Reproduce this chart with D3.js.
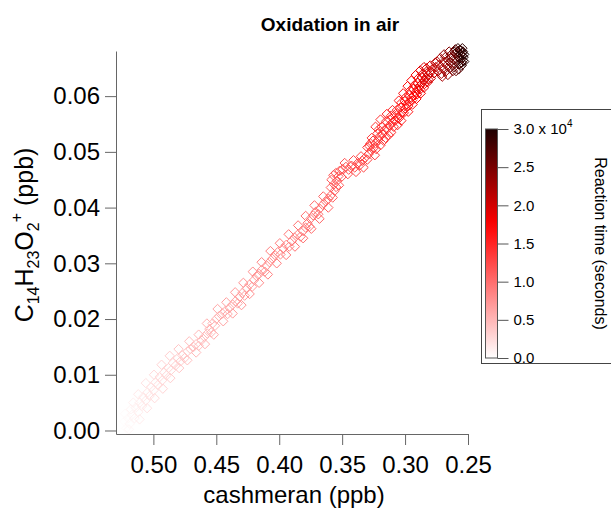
<!DOCTYPE html>
<html>
<head>
<meta charset="utf-8">
<script src="https://cdn.jsdelivr.net/npm/d3@7"></script>
<style>
  body { margin: 0; background: #fff; }
  svg { display: block; font-family: "Liberation Sans", Arial, sans-serif; }
</style>
</head>
<body>
<svg id="chart" width="611" height="510"></svg>
<script>
  'use strict';

  // cashmeran (ppb) (main track, then side scatter)
  var cashmeran = [
    0.5245, 0.5230, 0.5215, 0.5200, 0.5188, 0.5170, 0.5178, 0.5150, 0.5140, 0.5120, 0.5108,
    0.5090, 0.5080, 0.5060, 0.5048, 0.5030, 0.5018, 0.4998, 0.4985, 0.4962, 0.4950, 0.4930,
    0.4915, 0.4895, 0.4880, 0.4860, 0.4845, 0.4822, 0.4805, 0.4785, 0.4770, 0.4752, 0.4728,
    0.4705, 0.4680, 0.4660, 0.4640, 0.4618, 0.4595, 0.4572, 0.4555, 0.4540, 0.4530, 0.4510, 0.4500,
    0.4478, 0.4452, 0.4430, 0.4410, 0.4395, 0.4370, 0.4348, 0.4330, 0.4315, 0.4292,
    0.4275, 0.4258, 0.4235, 0.4215, 0.4200, 0.4180, 0.4160, 0.4140, 0.4115, 0.4100,
    0.4078, 0.4055, 0.4035, 0.4012, 0.3990, 0.3970, 0.3945, 0.3920, 0.3900, 0.3878, 0.3855,
    0.3830, 0.3810, 0.3790, 0.3775, 0.3760, 0.3752, 0.3730, 0.3712, 0.3690, 0.3678,
    0.3655, 0.3630, 0.3610, 0.3590, 0.3575, 0.3560, 0.3548, 0.3565, 0.3540, 0.3530, 0.3550, 0.3520,
    0.3495, 0.3470, 0.3448, 0.3425, 0.3400, 0.3380, 0.3360, 0.3340, 0.3320, 0.3300,
    0.3290, 0.3270, 0.3282, 0.3250, 0.3235, 0.3255, 0.3215, 0.3200, 0.3220, 0.3180,
    0.3165, 0.3185, 0.3140, 0.3120, 0.3100, 0.3122, 0.3080, 0.3060, 0.3075, 0.3040,
    0.3020, 0.3035, 0.3000, 0.2985, 0.3002, 0.2965, 0.2950, 0.2968, 0.2930, 0.2915, 0.2935,
    0.2900, 0.2885, 0.2900, 0.2868, 0.2850, 0.2868, 0.2835, 0.2815, 0.2830, 0.2800,
    0.2785, 0.2770, 0.2755, 0.2740, 0.2728, 0.2712, 0.2700, 0.2690, 0.2678, 0.2668, 0.2655,
    0.2660, 0.2645, 0.2635, 0.2625, 0.2640, 0.2615, 0.2600, 0.2610, 0.2592, 0.2580, 0.2588,
    0.2570, 0.2560, 0.2572, 0.2555, 0.2548, 0.2565, 0.2540, 0.2550, 0.2535, 0.2545, 0.2530,
    // side scatter
    0.5225, 0.5195, 0.5160, 0.5110, 0.5120, 0.5050, 0.5060, 0.4990, 0.4995, 0.4925, 0.4935,
    0.4865, 0.4870, 0.4795, 0.4800, 0.4730, 0.4715, 0.4660, 0.4640, 0.4590, 0.4575, 0.4520,
    0.4490, 0.4445, 0.4420, 0.4370, 0.4350, 0.4300, 0.4285, 0.4235, 0.4210, 0.4160, 0.4140, 0.4090,
    0.4070, 0.4020, 0.3995, 0.3945, 0.3925, 0.3875, 0.3850, 0.3810, 0.3790, 0.3745, 0.3720, 0.3680,
    0.3650, 0.3610, 0.3590, 0.3585, 0.3525, 0.3570, 0.3505,
    0.3480, 0.3455, 0.3410, 0.3390, 0.3350, 0.3330,
    0.3300, 0.3240, 0.3265, 0.3195, 0.3235, 0.3155, 0.3195, 0.3110, 0.3145, 0.3060, 0.3100, 0.3030,
    0.3050, 0.2975, 0.3015, 0.2940, 0.2980, 0.2910, 0.2950, 0.2875, 0.2915, 0.2850, 0.2880, 0.2820,
    0.2850, 0.2795,
    0.2760, 0.2720, 0.2690, 0.2650, 0.2620, 0.2600, 0.2575, 0.2560, 0.2540, 0.2580,
    // dense upper band
    0.3275, 0.3230, 0.3210, 0.3170, 0.3150, 0.3130, 0.3110, 0.3090, 0.3065, 0.3050, 0.3030,
    0.3010, 0.2995, 0.2975, 0.2960, 0.2945, 0.2925, 0.2905, 0.2895, 0.2880, 0.2860, 0.2845,
    0.2830, 0.2815, 0.2800,
    0.2745, 0.2705, 0.2680, 0.2640, 0.2610, 0.2595, 0.2565, 0.2550, 0.2545, 0.2530
  ];

  // C14H23O2+ (ppb)
  var product = [
    0.0006, 0.0016, 0.0004, 0.0022, 0.0012, 0.0028, 0.0038, 0.0022, 0.0041, 0.0033, 0.0050,
    0.0044, 0.0060, 0.0054, 0.0068, 0.0062, 0.0078, 0.0072, 0.0086, 0.0082, 0.0096, 0.0090,
    0.0104, 0.0099, 0.0112, 0.0108, 0.0121, 0.0117, 0.0130, 0.0124, 0.0135, 0.0130, 0.0142,
    0.0146, 0.0150, 0.0155, 0.0152, 0.0162, 0.0168, 0.0174, 0.0182, 0.0176, 0.0192, 0.0188, 0.0200,
    0.0205, 0.0210, 0.0214, 0.0209, 0.0220, 0.0226, 0.0232, 0.0228, 0.0240, 0.0247,
    0.0242, 0.0255, 0.0262, 0.0258, 0.0270, 0.0277, 0.0281, 0.0288, 0.0285, 0.0296,
    0.0302, 0.0308, 0.0315, 0.0320, 0.0316, 0.0327, 0.0333, 0.0330, 0.0340, 0.0346, 0.0351,
    0.0348, 0.0358, 0.0364, 0.0372, 0.0366, 0.0380, 0.0386, 0.0392, 0.0388, 0.0398,
    0.0405, 0.0411, 0.0416, 0.0422, 0.0418, 0.0430, 0.0437, 0.0442, 0.0448, 0.0456, 0.0462, 0.0466,
    0.0469, 0.0473, 0.0468, 0.0475, 0.0472, 0.0479, 0.0476, 0.0484, 0.0489, 0.0486,
    0.0496, 0.0502, 0.0510, 0.0507, 0.0515, 0.0520, 0.0521, 0.0528, 0.0533, 0.0532,
    0.0539, 0.0545, 0.0542, 0.0548, 0.0553, 0.0558, 0.0556, 0.0561, 0.0568, 0.0566,
    0.0572, 0.0580, 0.0578, 0.0585, 0.0591, 0.0590, 0.0597, 0.0602, 0.0601, 0.0607, 0.0613,
    0.0612, 0.0618, 0.0624, 0.0622, 0.0628, 0.0634, 0.0633, 0.0638, 0.0644, 0.0642,
    0.0648, 0.0641, 0.0652, 0.0645, 0.0656, 0.0640, 0.0650, 0.0661, 0.0644, 0.0655, 0.0664,
    0.0638, 0.0650, 0.0669, 0.0658, 0.0673, 0.0666, 0.0676, 0.0652, 0.0662, 0.0671, 0.0680,
    0.0678, 0.0665, 0.0657, 0.0682, 0.0673, 0.0683, 0.0680, 0.0660, 0.0670, 0.0677, 0.0675,
    // side scatter
    0.0030, 0.0002, 0.0050, 0.0020, 0.0065, 0.0040, 0.0085, 0.0058, 0.0100, 0.0075, 0.0118,
    0.0094, 0.0134, 0.0112, 0.0146, 0.0126, 0.0160, 0.0140, 0.0172, 0.0155, 0.0192, 0.0172,
    0.0218, 0.0196, 0.0230, 0.0210, 0.0248, 0.0225, 0.0265, 0.0245, 0.0285, 0.0265, 0.0302, 0.0280,
    0.0322, 0.0300, 0.0336, 0.0315, 0.0352, 0.0330, 0.0368, 0.0345, 0.0385, 0.0362, 0.0404, 0.0380,
    0.0420, 0.0400, 0.0436, 0.0450, 0.0440, 0.0458, 0.0455,
    0.0480, 0.0460, 0.0485, 0.0464, 0.0492, 0.0472,
    0.0508, 0.0494, 0.0525, 0.0512, 0.0545, 0.0525, 0.0558, 0.0535, 0.0568, 0.0548, 0.0575, 0.0556,
    0.0592, 0.0572, 0.0605, 0.0585, 0.0618, 0.0595, 0.0628, 0.0605, 0.0638, 0.0615, 0.0646, 0.0625,
    0.0652, 0.0632,
    0.0660, 0.0668, 0.0675, 0.0680, 0.0645, 0.0684, 0.0648, 0.0675, 0.0664, 0.0686,
    // dense upper band
    0.0515, 0.0505, 0.0540, 0.0520, 0.0555, 0.0530, 0.0565, 0.0545, 0.0575, 0.0560, 0.0588,
    0.0570, 0.0598, 0.0582, 0.0610, 0.0592, 0.0620, 0.0603, 0.0632, 0.0612, 0.0640, 0.0622,
    0.0650, 0.0630, 0.0655,
    0.0662, 0.0635, 0.0670, 0.0660, 0.0680, 0.0645, 0.0668, 0.0655, 0.0686, 0.0662
  ];

  // reaction time (seconds)
  var reactionTime = [
    0, 120, 240, 360, 480, 600, 720, 840, 960, 1080, 1200,
    1320, 1440, 1560, 1680, 1800, 1920, 2040, 2160, 2280, 2400, 2520,
    2640, 2760, 2880, 3000, 3120, 3240, 3360, 3480, 3600, 3720, 3840,
    3960, 4080, 4200, 4320, 4440, 4560, 4680, 4800, 4920, 5040, 5160, 5280,
    5400, 5510, 5620, 5730, 5840, 5950, 6060, 6170, 6280, 6390,
    6500, 6610, 6720, 6830, 6940, 7050, 7160, 7270, 7380, 7490,
    7600, 7720, 7840, 7960, 8080, 8200, 8320, 8440, 8560, 8680, 8800,
    8920, 9040, 9160, 9280, 9400, 9520, 9640, 9760, 9880, 10000,
    10150, 10300, 10450, 10600, 10750, 10900, 11050, 11200, 11350, 11500, 11650, 11800,
    11950, 12070, 12190, 12310, 12430, 12550, 12670, 12790, 12910, 13030,
    13150, 13280, 13410, 13540, 13670, 13800, 13930, 14060, 14190, 14320,
    14450, 14580, 14710, 14840, 14970, 15100, 15230, 15360, 15490, 15620,
    15800, 16020, 16240, 16460, 16680, 16900, 17120, 17340, 17560, 17780, 18000,
    18220, 18440, 18660, 18880, 19100, 19320, 19540, 19760, 19980, 20200,
    20400, 20700, 21000, 21300, 21600, 21900, 22200, 22500, 22800, 23100, 23400,
    23700, 24000, 24300, 24600, 24900, 25200, 25500, 25800, 26100, 26400, 26700,
    27000, 27300, 27600, 27900, 28200, 28500, 28800, 29100, 29400, 29700, 30000,
    // side scatter
    300, 500, 950, 1250, 1500, 1900, 2000, 2450, 2550, 2900, 3000,
    3350, 3450, 3850, 4000, 4350, 4550, 4800, 5000, 5250, 5450, 5750,
    6100, 6350, 6600, 6850, 7050, 7250, 7450, 7650, 7850, 8050, 8300, 8500,
    8700, 8900, 9100, 9300, 9500, 9650, 9800, 9900, 10050, 10150, 10300, 10400,
    10600, 10700, 10900, 11100, 11200, 11400, 11600,
    11900, 12100, 12300, 12500, 12800, 12900,
    13200, 13350, 13500, 13700, 13900, 14100, 14300, 14500, 14700, 14900, 15100, 15350,
    15700, 16000, 16300, 16600, 16900, 17200, 17500, 17800, 18100, 18400, 18800, 19200,
    19600, 20000,
    21000, 22000, 23500, 24500, 25000, 26000, 27000, 28000, 29000, 29500,
    // dense upper band
    13300, 13450, 13800, 13950, 14200, 14350, 14600, 14800, 15000, 15200, 15500,
    15650, 15900, 16150, 16400, 16700, 17000, 17300, 17650, 17950, 18300, 18600,
    19000, 19400, 19800,
    21400, 22300, 23200, 24400, 25600, 26200, 27600, 28600, 29200, 29800
  ];

  var xTicks = [0.50, 0.45, 0.40, 0.35, 0.30, 0.25];
  var yTicks = [0.00, 0.01, 0.02, 0.03, 0.04, 0.05, 0.06];
  var timeTicks = [0, 5000, 10000, 15000, 20000, 25000, 30000];

  var svg = d3.select('#chart');
  var plot = { left: 116, right: 468, top: 51, bottom: 434 };
  var axisColor = '#666';
  var font = '"Liberation Sans", Arial, sans-serif';

  var xScale = d3.scaleLinear().domain([0.5297, 0.25]).range([plot.left, plot.right]);
  var yScale = d3.scaleLinear().domain([-0.00063, 0.0681]).range([plot.bottom, plot.top]);
  var colorScale = d3.scaleLinear()
    .domain([0, 17500, 30000])
    .range(['#ffffff', '#ff0000', '#1e0000'])
    .clamp(true);

  var points = cashmeran.map(function(x, i) {
    return { x: x, y: product[i], t: reactionTime[i] };
  }).sort(function(a, b) { return a.t - b.t; });

  // open diamonds (square turned 45 degrees)
  var diamond = {
    draw: function(context, size) {
      var r = Math.sqrt(size / 2);
      context.moveTo(0, -r);
      context.lineTo(r, 0);
      context.lineTo(0, r);
      context.lineTo(-r, 0);
      context.closePath();
    }
  };

  svg.append('rect').attr('width', 611).attr('height', 510).attr('fill', '#fff');

  // title
  svg.append('text')
    .attr('x', 330)
    .attr('y', 31)
    .attr('text-anchor', 'middle')
    .style('font-size', '19px')
    .style('font-weight', 'bold')
    .text('Oxidation in air');

  // data
  svg.append('g')
    .selectAll('path.pt')
    .data(points)
    .enter()
    .append('path')
    .attr('class', 'pt')
    .attr('d', d3.symbol(diamond, 44))
    .attr('transform', function(d) {
      return 'translate(' + xScale(d.x) + ',' + yScale(d.y) + ')';
    })
    .attr('fill', 'none')
    .attr('stroke', function(d) { return colorScale(d.t); })
    .attr('stroke-width', 1);

  // axes
  var xAxis = svg.append('g')
    .attr('transform', 'translate(0,' + plot.bottom + ')')
    .call(d3.axisBottom(xScale).tickValues(xTicks).tickFormat(d3.format('.2f'))
      .tickSize(11).tickSizeOuter(0).tickPadding(11));
  var yAxis = svg.append('g')
    .attr('transform', 'translate(' + plot.left + ',0)')
    .call(d3.axisLeft(yScale).tickValues(yTicks).tickFormat(d3.format('.2f'))
      .tickSize(11).tickSizeOuter(0).tickPadding(5));

  [xAxis, yAxis].forEach(function(g) {
    g.selectAll('path, line').attr('stroke', axisColor);
    g.selectAll('text')
      .attr('fill', '#000')
      .style('font-size', '24px')
      .style('font-family', font);
  });

  svg.append('text')
    .attr('x', 294)
    .attr('y', 503)
    .attr('text-anchor', 'middle')
    .style('font-size', '24px')
    .text('cashmeran (ppb)');

  var yLabel = svg.append('text')
    .attr('transform', 'translate(33,235) rotate(-90)')
    .attr('text-anchor', 'middle')
    .style('font-size', '25px');
  yLabel.append('tspan').text('C');
  yLabel.append('tspan').attr('dy', 6).style('font-size', '16px').text('14');
  yLabel.append('tspan').attr('dy', -6).text('H');
  yLabel.append('tspan').attr('dy', 6).style('font-size', '16px').text('23');
  yLabel.append('tspan').attr('dy', -6).text('O');
  yLabel.append('tspan').attr('dy', 6).style('font-size', '16px').text('2');
  yLabel.append('tspan').attr('dy', -17).style('font-size', '16px').text('+');
  yLabel.append('tspan').attr('dy', 11).text(' (ppb)');

  // colour scale legend
  var legend = { left: 481, top: 109, bottom: 363, barLeft: 485, barWidth: 12, barTop: 129, barBottom: 358 };
  svg.append('rect')
    .attr('x', legend.left + 0.5)
    .attr('y', legend.top + 0.5)
    .attr('width', 160)
    .attr('height', legend.bottom - legend.top)
    .attr('fill', '#fff')
    .attr('stroke', '#444');

  var grad = svg.append('defs').append('linearGradient')
    .attr('id', 'timeGrad')
    .attr('x1', 0).attr('y1', 1).attr('x2', 0).attr('y2', 0);
  grad.selectAll('stop')
    .data(d3.range(0, 1.0001, 0.05))
    .enter()
    .append('stop')
    .attr('offset', function(d) { return d; })
    .attr('stop-color', function(d) { return colorScale(d * 30000); });

  svg.append('rect')
    .attr('x', legend.barLeft + 0.5)
    .attr('y', legend.barTop)
    .attr('width', legend.barWidth)
    .attr('height', legend.barBottom - legend.barTop)
    .attr('fill', 'url(#timeGrad)')
    .attr('stroke', '#555');

  var tScale = d3.scaleLinear().domain([0, 30000]).range([legend.barBottom, legend.barTop]);
  var tAxis = svg.append('g')
    .attr('transform', 'translate(' + (legend.barLeft + legend.barWidth + 0.5) + ',0)')
    .call(d3.axisRight(tScale).tickValues(timeTicks)
      .tickFormat(function(v) { return (v / 1e4).toFixed(1); })
      .tickSize(11).tickSizeOuter(0).tickPadding(5));
  tAxis.select('.domain').remove();
  tAxis.selectAll('line').attr('stroke', '#555');
  tAxis.selectAll('text')
    .attr('fill', '#000')
    .style('font-size', '15px')
    .style('font-family', font);
  tAxis.selectAll('.tick text')
    .filter(function(v) { return v === 30000; })
    .each(function() {
      var t = d3.select(this);
      t.append('tspan').text(' x 10');
      t.append('tspan').attr('dy', -7).style('font-size', '10px').text('4');
    });

  svg.append('text')
    .attr('transform', 'translate(595,' + ((legend.barTop + legend.barBottom) / 2) + ') rotate(90)')
    .attr('text-anchor', 'middle')
    .style('font-size', '16px')
    .text('Reaction time (seconds)');
</script>
</body>
</html>
